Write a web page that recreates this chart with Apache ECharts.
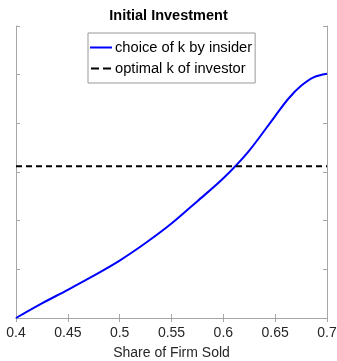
<!DOCTYPE html>
<html><head><meta charset="utf-8">
<script src="https://cdn.jsdelivr.net/npm/echarts@6/dist/echarts.min.js"></script>
<style>html,body{margin:0;padding:0;background:#fff}#c{width:337px;height:361px}</style>
</head><body><div id="c"></div>
<script>
var shareSold = [0.4, 0.425, 0.45, 0.475, 0.5, 0.525, 0.55, 0.575, 0.6, 0.625, 0.65, 0.6625, 0.675, 0.6875, 0.7];
var kInsider  = [0, 0.30, 0.58, 0.87, 1.18, 1.54, 1.94, 2.40, 2.87, 3.44, 4.15, 4.50, 4.77, 4.95, 5.02];
var kInvestor = 3.12;
var xTicks = [0.4, 0.45, 0.5, 0.55, 0.6, 0.65, 0.7];

var FONT = 'Liberation Sans';
var chart = echarts.init(document.getElementById('c'), null, {renderer:'canvas'});
var axisLine = {show:true, lineStyle:{color:'#a6a6a6', width:1}};
var tick = {show:true, inside:true, length:4, lineStyle:{color:'#a6a6a6'}};
chart.setOption({
  animation:false,
  backgroundColor:'#fff',
  title:{text:'Initial Investment', left:'center', top:3,
    textStyle:{fontFamily:FONT, fontSize:14.5, fontWeight:'bold', color:'#000'}},
  grid:{left:16, right:10, top:26, bottom:43, containLabel:false, outerBoundsMode:'none'},
  legend:{
    orient:'vertical', left:88, top:33, itemWidth:22, itemHeight:2, itemGap:6,
    padding:[7,3,7,2], borderColor:'#999', borderWidth:1, backgroundColor:'#fff',
    textStyle:{fontFamily:FONT, fontSize:14.7, color:'#000', padding:[0,0,0,-2]},
    data:[
      {name:'choice of k by insider', icon:'rect', itemStyle:{color:'#0000ff'}},
      {name:'optimal k of investor', icon:'path://M0,0h8v2h-8z M12,0h8v2h-8z', itemStyle:{color:'#000'}}
    ]
  },
  xAxis:[{
    type:'value', min:xTicks[0], max:xTicks[xTicks.length-1], interval:0.05,
    name:'Share of Firm Sold', nameLocation:'middle', nameGap:28,
    nameTextStyle:{fontFamily:FONT, fontSize:14, color:'#262626'},
    axisLine:axisLine, axisTick:tick, splitLine:{show:false},
    axisLabel:{fontFamily:FONT, fontSize:14, color:'#262626', margin:8}
  },{
    type:'value', position:'top', min:xTicks[0], max:xTicks[xTicks.length-1], interval:0.05,
    axisLine:axisLine, axisTick:tick, splitLine:{show:false}, axisLabel:{show:false}
  }],
  yAxis:[{
    type:'value', min:0, max:6, interval:1,
    axisLine:axisLine, axisTick:tick, splitLine:{show:false}, axisLabel:{show:false}
  },{
    type:'value', position:'right', min:0, max:6, interval:1,
    axisLine:axisLine, axisTick:tick, splitLine:{show:false}, axisLabel:{show:false}
  }],
  series:[{
    name:'choice of k by insider', type:'line', symbol:'none', smooth:0.3,
    lineStyle:{color:'#0000ff', width:2}, itemStyle:{color:'#0000ff'},
    data: shareSold.map(function(x,i){return [x, kInsider[i]];})
  },{
    name:'optimal k of investor', type:'line', symbol:'none',
    lineStyle:{color:'#000', width:2, type:[6,4]}, itemStyle:{color:'#000'},
    data:[[xTicks[0], kInvestor],[xTicks[xTicks.length-1], kInvestor]]
  }]
});
</script></body></html>
